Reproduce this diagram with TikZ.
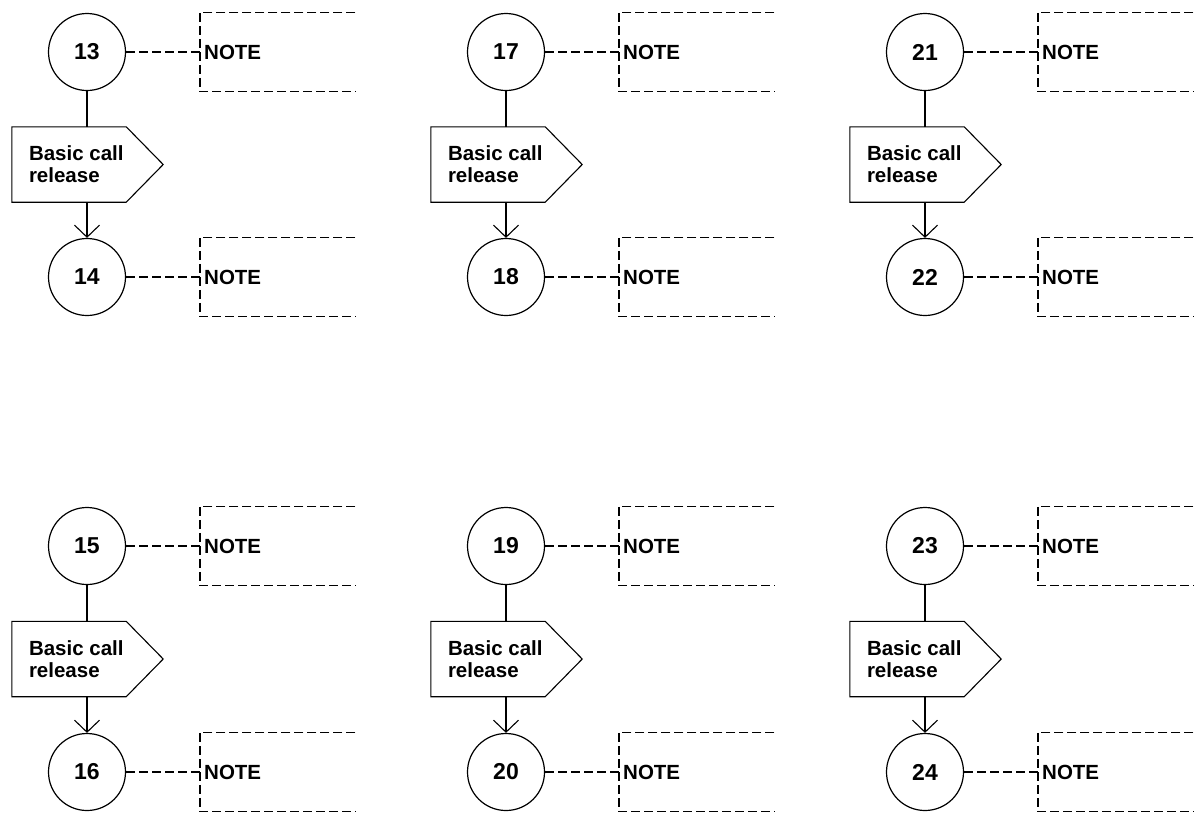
\documentclass[tikz,border=0pt]{standalone}
\usepackage{fontspec}
\setmainfont{Liberation Sans}
\usetikzlibrary{arrows.meta,calc}

\tikzset{
  labelfont/.style={font=\bfseries\fontsize{20.5}{22}\selectfont},
  state/.style={circle, draw, line width=1.2pt, minimum size=77pt, inner sep=0pt,
                font=\bfseries\fontsize{23}{24}\selectfont},
  notebox/.style={rectangle, minimum width=155pt, minimum height=79pt, text width=147pt,
                  inner xsep=4pt, inner ysep=0pt, align=left, anchor=west, labelfont},
  procshape/.style={rectangle, minimum width=114pt, minimum height=75pt, inner sep=0pt},
  proctext/.style={align=left, inner sep=0pt, anchor=west, labelfont},
  link/.style={line width=1.1pt, dash pattern=on 9pt off 4pt},
  flow/.style={line width=1.1pt},
  flowarrow/.style={flow, -{Straight Barb[length=12pt, width=25pt, line width=1.1pt]}},
}

% One release step: state #4 at (#1,#2), state #5 at (#1,#3),
% each with its note, and the "Basic call release" output between them.
\newcommand\releasestep[5]{%
  \node[state] (s#4) at (#1,#2) {#4};
  \node[state] (s#5) at (#1,#3) {#5};
  \node[notebox] (n#4) at (#1+113,#2) {NOTE};
  \node[notebox] (n#5) at (#1+113,#3) {NOTE};
  \draw[link] (n#4.north east) -- (n#4.north west) -- (n#4.south west) -- (n#4.south east);
  \draw[link] (n#5.north east) -- (n#5.north west) -- (n#5.south west) -- (n#5.south east);
  \draw[link] (s#4) -- (n#4);
  \draw[link] (s#5) -- (n#5);
  \node[procshape] (p#4) at (#1-18,{(#2+#3)/2}) {};
  \draw[flow] (p#4.north west) -- (p#4.north east) -- ($(p#4.east)+(37,0)$)
              -- (p#4.south east) -- (p#4.south west) -- cycle;
  \node[proctext] (t#4) at ($(p#4.west)+(17,0)$) {Basic call\\release};
  \draw[flow] (s#4) -- (s#4 |- p#4.north);
  \draw[flowarrow] (s#4 |- p#4.south) -- (s#5);
}

\begin{document}
\begin{tikzpicture}[x=1pt, y=-1pt]
  \useasboundingbox (0,0) rectangle (1194,820);
  \releasestep{87}{52}{277}{13}{14}
  \releasestep{87}{546}{772}{15}{16}
  \releasestep{506}{52}{277}{17}{18}
  \releasestep{506}{546}{772}{19}{20}
  \releasestep{925}{52}{277}{21}{22}
  \releasestep{925}{546}{772}{23}{24}
\end{tikzpicture}
\end{document}
